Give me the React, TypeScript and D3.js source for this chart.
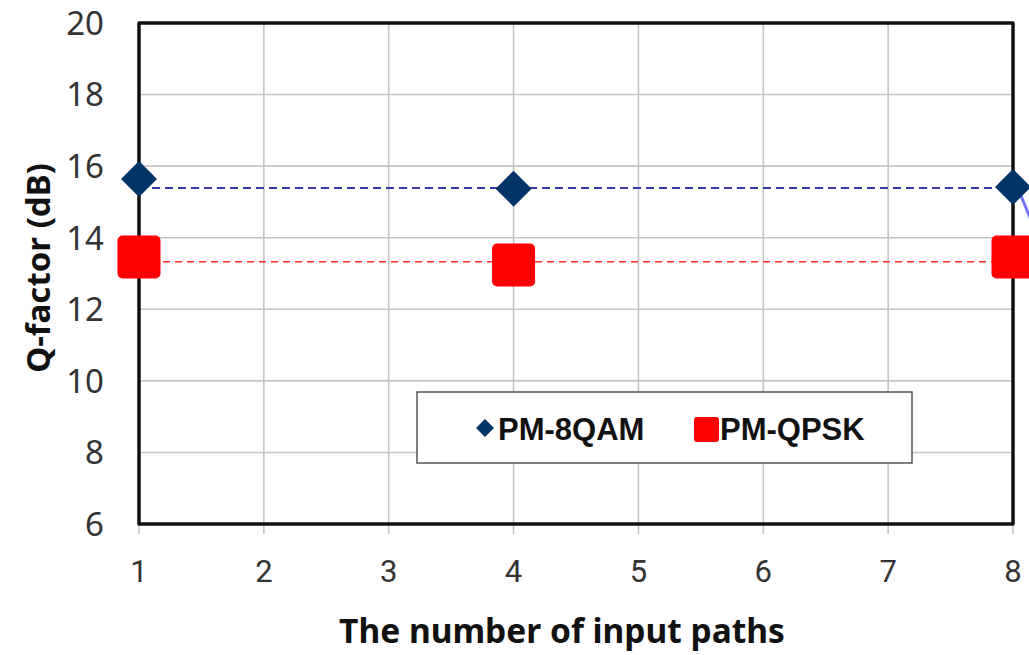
import React, { useEffect, useRef } from "react";
import * as d3 from "d3";

const paths = [1, 4, 8];
const qam8 = [15.64, 15.37, 15.42];
const qpsk = [13.46, 13.24, 13.46];
const avgQam8 = 15.39;
const avgQpsk = 13.33;
const xTicks = [1, 2, 3, 4, 5, 6, 7, 8];
const yTicks = [6, 8, 10, 12, 14, 16, 18, 20];

export default function App() {
  const ref = useRef<SVGSVGElement>(null);

  useEffect(() => {
    const svg = d3.select(ref.current);
    svg.selectAll("*").remove();

    const left = 139, right = 1013, top = 23, bottom = 524;
    const x = d3.scaleLinear().domain([1, 8]).range([left, right]);
    const y = d3.scaleLinear().domain([6, 20]).range([bottom, top]);

    svg.append("rect").attr("width", 1029).attr("height", 655).attr("fill", "#fff");

    // grid
    const grid = svg.append("g").attr("stroke", "#c4c4c4").attr("stroke-width", 1.6);
    grid.selectAll(".gy").data(yTicks.slice(1, -1)).join("line")
      .attr("x1", left).attr("x2", right)
      .attr("y1", (d) => y(d)).attr("y2", (d) => y(d));
    grid.selectAll(".gx").data(xTicks.slice(1, -1)).join("line")
      .attr("x1", (d) => x(d)).attr("x2", (d) => x(d))
      .attr("y1", top).attr("y2", bottom);
    grid.selectAll(".tk").data(xTicks).join("line")
      .attr("x1", (d) => x(d)).attr("x2", (d) => x(d))
      .attr("y1", bottom).attr("y2", bottom + 10);

    // average lines
    svg.append("line")
      .attr("x1", x(1)).attr("x2", x(8))
      .attr("y1", y(avgQam8)).attr("y2", y(avgQam8))
      .attr("stroke", "#3838a8").attr("stroke-width", 2)
      .attr("stroke-dasharray", "8,5");
    svg.append("line")
      .attr("x1", x(1)).attr("x2", x(8))
      .attr("y1", y(avgQpsk)).attr("y2", y(avgQpsk))
      .attr("stroke", "#ff2a2a").attr("stroke-width", 1.6)
      .attr("stroke-dasharray", "7,5");

    // frame
    svg.append("rect")
      .attr("x", left).attr("y", top)
      .attr("width", right - left).attr("height", bottom - top)
      .attr("fill", "none").attr("stroke", "#111").attr("stroke-width", 3.5)
      .attr("stroke-linejoin", "round");

    // tick labels
    svg.append("g").selectAll("text").data(yTicks).join("text")
      .attr("x", 104).attr("y", (d) => y(d))
      .attr("dy", "0.36em")
      .attr("text-anchor", "end")
      .attr("font-family", "'Noto Sans', sans-serif")
      .attr("font-size", 33).attr("fill", "#333")
      .text((d) => d);
    svg.append("g").selectAll("text").data(xTicks).join("text")
      .attr("x", (d) => x(d)).attr("y", 582)
      .attr("text-anchor", "middle")
      .attr("font-family", "Roboto, sans-serif")
      .attr("font-size", 31).attr("fill", "#333")
      .text((d) => d);

    // axis titles
    svg.append("text")
      .attr("x", 562).attr("y", 643)
      .attr("text-anchor", "middle")
      .attr("font-family", "'Noto Sans', sans-serif")
      .attr("font-weight", "bold").attr("font-size", 33.5).attr("fill", "#111")
      .text("The number of input paths");
    svg.append("text")
      .attr("transform", "translate(50,268) rotate(-90)")
      .attr("text-anchor", "middle")
      .attr("font-family", "'Noto Sans', sans-serif")
      .attr("font-weight", "bold").attr("font-size", 33).attr("fill", "#111")
      .text("Q-factor (dB)");

    // annotation arrow stub at right edge
    svg.append("line")
      .attr("x1", 1019).attr("y1", 191).attr("x2", 1036).attr("y2", 232)
      .attr("stroke", "#7272ff").attr("stroke-width", 3);

    // markers
    const diamond = (cx: number, cy: number, r: number) =>
      `M${cx},${cy - r}L${cx + r},${cy}L${cx},${cy + r}L${cx - r},${cy}Z`;
    svg.append("g").selectAll("path").data(paths).join("path")
      .attr("d", (d, i) => diamond(x(d), y(qam8[i]), 18))
      .attr("fill", "#003366");
    const sq = 43;
    svg.append("g").selectAll("rect").data(paths).join("rect")
      .attr("x", (d) => x(d) - sq / 2)
      .attr("y", (d, i) => y(qpsk[i]) - sq / 2)
      .attr("width", sq).attr("height", sq).attr("rx", 5)
      .attr("fill", "#ff0000");

    // legend
    const lg = svg.append("g");
    lg.append("rect")
      .attr("x", 417).attr("y", 392).attr("width", 495).attr("height", 71)
      .attr("fill", "#fff").attr("stroke", "#555").attr("stroke-width", 1.5);
    lg.append("path").attr("d", diamond(485, 428, 9)).attr("fill", "#003366");
    lg.append("rect").attr("x", 694).attr("y", 417).attr("width", 25).attr("height", 25)
      .attr("rx", 3).attr("fill", "#ff0000");
    lg.selectAll("text").data([["PM-8QAM", 498], ["PM-QPSK", 720]]).join("text")
      .attr("x", (d) => d[1] as number).attr("y", 440)
      .attr("font-family", "'Liberation Sans', Arial, sans-serif")
      .attr("font-weight", "bold").attr("font-size", 31).attr("fill", "#111")
      .text((d) => d[0] as string);
  }, []);

  return (
    <svg
      ref={ref}
      width={1029}
      height={655}
      style={{ position: "absolute", left: 0, top: 0, overflow: "hidden" }}
    />
  );
}
